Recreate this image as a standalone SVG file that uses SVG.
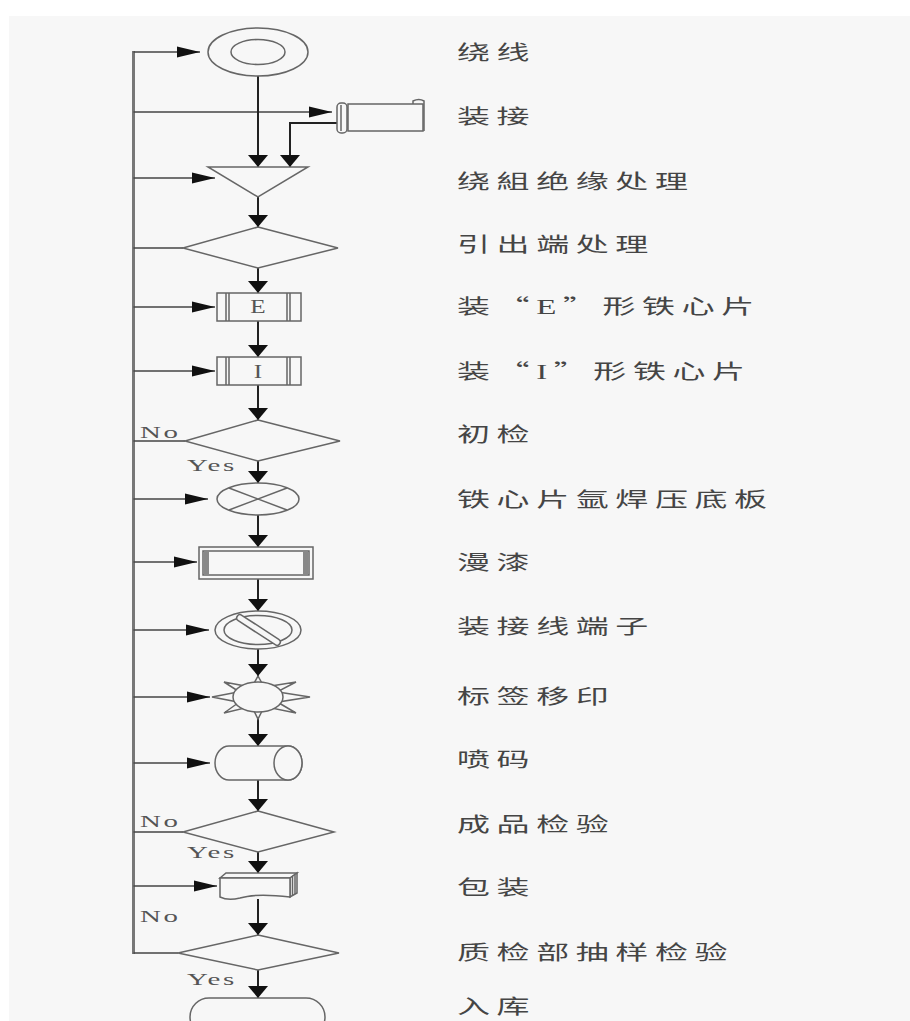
<svg xmlns="http://www.w3.org/2000/svg" width="910" height="1021" viewBox="0 0 910 1021">
<style>
.sh{fill:#f7f7f7;stroke:#666;stroke-width:1.5}
.nf{fill:none;stroke:#666;stroke-width:1.5}
.v{stroke:#222;stroke-width:2;fill:none;marker-end:url(#arrD)}
.h{stroke:#444;stroke-width:1.5;fill:none;marker-end:url(#arrR)}
.hp{stroke:#444;stroke-width:1.5;fill:none}
.lbl{font-family:"Noto Sans CJK SC","Noto Sans",sans-serif;font-size:20px;letter-spacing:4px;fill:#454545}
.ser{font-family:"Liberation Serif",serif}
.yn{font-family:"Liberation Serif",serif;font-size:17px;letter-spacing:1.5px;fill:#555}
.in{font-family:"Liberation Serif",serif;font-size:18px;fill:#555;text-anchor:middle}
</style>
<defs>
<marker id="arrR" markerUnits="userSpaceOnUse" markerWidth="24" markerHeight="12" refX="23" refY="6" orient="0" overflow="visible">
<path d="M0,0.5 L23,6 L0,11.5 Z" fill="#111"/>
</marker>
<marker id="arrD" markerUnits="userSpaceOnUse" markerWidth="22" markerHeight="13" refX="10" refY="12" orient="0" overflow="visible">
<path d="M0,0 L10,12 L20,0 Z" fill="#111"/>
</marker>
</defs>
<rect x="0" y="0" width="910" height="1021" fill="#ffffff"/>
<rect x="9" y="16" width="901" height="1005" fill="#f7f7f7"/>

<g id="connectors">
<line x1="133.5" y1="51" x2="133.5" y2="954" stroke="#777" stroke-width="3"/>
<path class="h" d="M133.5,52 H200"/>
<path class="h" d="M133.5,112 H332"/>
<path class="h" d="M133.5,178 H215"/>
<path class="hp" d="M133.5,248 H183"/>
<path class="h" d="M133.5,307 H215"/>
<path class="h" d="M133.5,371 H215"/>
<path class="hp" d="M133.5,441 H185"/>
<path class="h" d="M133.5,499 H208"/>
<path class="h" d="M133.5,562 H197"/>
<path class="h" d="M133.5,630 H209"/>
<path class="h" d="M133.5,697 H210"/>
<path class="h" d="M133.5,763 H210"/>
<path class="hp" d="M133.5,832 H183"/>
<path class="h" d="M133.5,886 H217"/>
<path class="hp" d="M133.5,953 H178"/>
<path class="v" d="M258,76 V167"/>
<path class="v" d="M337,123 H290 V167" stroke="#555"/>
<path class="v" d="M258,197 V227"/>
<path class="v" d="M258,268 V293"/>
<path class="v" d="M258,321 V357"/>
<path class="v" d="M258,385 V420"/>
<path class="v" d="M258,461 V483"/>
<path class="v" d="M258,515 V547"/>
<path class="v" d="M258,579 V611"/>
<path class="v" d="M258,649 V676"/>
<path class="v" d="M258,719 V746"/>
<path class="v" d="M258,780 V811"/>
<path class="v" d="M258,852 V873"/>
<path class="v" d="M258,899 V935"/>
<path class="v" d="M258,970 V998"/>
<text class="yn" transform="translate(140,438) scale(1.7,1)">No</text>
<text class="yn" transform="translate(187,471) scale(1.7,1)">Yes</text>
<text class="yn" transform="translate(140,827) scale(1.7,1)">No</text>
<text class="yn" transform="translate(187,858) scale(1.7,1)">Yes</text>
<text class="yn" transform="translate(140,922) scale(1.7,1)">No</text>
<text class="yn" transform="translate(187,985) scale(1.7,1)">Yes</text>
</g>

<g id="n1">
<ellipse class="sh" cx="258" cy="52" rx="50" ry="24"/>
<ellipse class="sh" cx="258" cy="52" rx="27" ry="12.5"/>
<text class="lbl" transform="translate(457,60) scale(1.65,1)">绕线</text>
</g>
<g id="n2">
<path class="sh" d="M348,104 H423 V131 H348 Z"/>
<path class="nf" d="M413,104 V101 Q419,98 424,101 V131"/>
<rect class="sh" x="337" y="103" width="10" height="30" rx="4"/>
<line class="nf" x1="341" y1="105" x2="341" y2="131"/>
<text class="lbl" transform="translate(457,124) scale(1.65,1)">装接</text>
</g>
<g id="n3">
<path class="sh" d="M208,167 H308 L258,197 Z"/>
<text class="lbl" transform="translate(457,189) scale(1.65,1)">绕組绝缘处理</text>
</g>
<g id="n4">
<path class="sh" d="M258,227 L338,248 L258,268 L183,248 Z"/>
<text class="lbl" transform="translate(457,252) scale(1.65,1)">引出端处理</text>
</g>
<g id="n5">
<rect class="sh" x="217" y="293" width="84" height="28"/>
<path class="nf" d="M226,293 V321 M229,293 V321 M287,293 V321 M290,293 V321"/>
<text class="in" transform="translate(258,313) scale(1.4,1)">E</text>
<text class="lbl" transform="translate(457,314) scale(1.65,1)">装“<tspan class="ser">E</tspan>”形铁心片</text>
</g>
<g id="n6">
<rect class="sh" x="217" y="357" width="84" height="28"/>
<path class="nf" d="M226,357 V385 M229,357 V385 M287,357 V385 M290,357 V385"/>
<text class="in" transform="translate(258,378) scale(1.4,1)">I</text>
<text class="lbl" transform="translate(457,379) scale(1.65,1)">装“<tspan class="ser">I</tspan>”形铁心片</text>
</g>
<g id="n7">
<path class="sh" d="M258,420 L340,441 L258,461 L185,441 Z"/>
<text class="lbl" transform="translate(457,442) scale(1.65,1)">初检</text>
</g>
<g id="n8">
<ellipse class="sh" cx="258" cy="499" rx="41" ry="16"/>
<path class="nf" d="M229,488 L287,510 M229,510 L287,488"/>
<text class="lbl" transform="translate(457,507) scale(1.65,1)">铁心片氩焊压底板</text>
</g>
<g id="n9">
<rect class="sh" x="199" y="547" width="114" height="32"/>
<rect class="nf" x="203" y="551" width="106" height="24"/>
<rect x="204" y="551" width="5" height="24" fill="#888"/>
<rect x="303" y="551" width="5" height="24" fill="#888"/>
<text class="lbl" transform="translate(457,570) scale(1.65,1)">漫漆</text>
</g>
<g id="n10">
<ellipse class="sh" cx="258" cy="630" rx="43" ry="19"/>
<ellipse class="sh" cx="258" cy="630" rx="34" ry="14.5"/>
<line x1="240" y1="618" x2="277" y2="642" stroke="#666" stroke-width="8" stroke-linecap="round"/>
<line x1="240" y1="618" x2="277" y2="642" stroke="#f7f7f7" stroke-width="5" stroke-linecap="round"/>
<text class="lbl" transform="translate(457,634) scale(1.65,1)">装接线端子</text>
</g>
<g id="n11">
<path class="sh" d="M252,687 L258,676 L264,687 Z M252,707 L258,719 L264,707 Z M238,692 L212,697 L238,702 Z M278,692 L310,697 L278,702 Z M238,691 L224,682 L245,686 Z M271,686 L296,682 L279,691 Z M238,703 L224,713 L245,708 Z M279,703 L296,713 L271,708 Z"/>
<ellipse class="sh" cx="258" cy="697" rx="25" ry="15"/>
<text class="lbl" transform="translate(457,704) scale(1.65,1)">标签移印</text>
</g>
<g id="n12">
<path class="sh" d="M229,746 H288 A14,17 0 0 1 288,780 H229 A14,17 0 0 1 229,746 Z"/>
<ellipse class="sh" cx="288" cy="763" rx="14" ry="17"/>
<text class="lbl" transform="translate(457,767) scale(1.65,1)">喷码</text>
</g>
<g id="n13">
<path class="sh" d="M258,811 L334,832 L258,852 L183,832 Z"/>
<text class="lbl" transform="translate(457,832) scale(1.65,1)">成品检验</text>
</g>
<g id="n14">
<path class="sh" d="M220,878 L226,873 H297 L290,878 Z"/>
<path class="sh" d="M290,878 L297,873 V893 L290,897 Z"/>
<path class="nf" d="M292.5,876 V895.5 M295,874.5 V894"/>
<path class="sh" d="M220,878 H290 V897 Q256,893 240,898 Q228,901 220,897 Z"/>
<text class="lbl" transform="translate(457,895) scale(1.65,1)">包装</text>
</g>
<g id="n15">
<path class="sh" d="M258,935 L339,953 L258,970 L178,953 Z"/>
<text class="lbl" transform="translate(457,960) scale(1.65,1)">质检部抽样检验</text>
</g>
<g id="n16">
<rect class="sh" x="190" y="998" width="135" height="38" rx="19"/>
<text class="lbl" transform="translate(457,1014) scale(1.65,1)">入库</text>
</g>
</svg>
